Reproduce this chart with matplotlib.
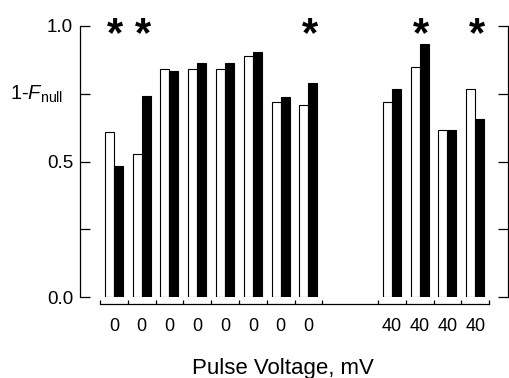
import numpy as np
import matplotlib
matplotlib.use('Agg')
import matplotlib.pyplot as plt

plt.rcParams['font.family'] = ['Liberation Sans', 'DejaVu Sans']
plt.rcParams['mathtext.fontset'] = 'custom'
plt.rcParams['mathtext.rm'] = 'Liberation Sans'
plt.rcParams['mathtext.it'] = 'Liberation Sans:italic'

# 数据：每组的电压标签、位置（槽号）、白柱和黑柱的值
labels = ['0', '0', '0', '0', '0', '0', '0', '0', '40', '40', '40', '40']
slots = [0, 1, 2, 3, 4, 5, 6, 7, 10, 11, 12, 13]
white = [0.610, 0.528, 0.841, 0.841, 0.841, 0.890, 0.718, 0.707, 0.718, 0.850, 0.615, 0.768]
black = [0.483, 0.742, 0.834, 0.862, 0.862, 0.903, 0.739, 0.790, 0.768, 0.932, 0.615, 0.657]
star_groups = [0, 1, 7, 9, 11]

W, H = 509, 378
fig = plt.figure(figsize=(W / 100, H / 100), dpi=100)
ax = fig.add_axes([80 / W, 1 - 297 / H, 428 / W, 271 / H])

x = np.array(slots, dtype=float)
bw = 0.324
ax.bar(x - bw / 2, white, width=bw, color='white', edgecolor='black', linewidth=0.8)
ax.bar(x + bw / 2, black, width=bw, color='black', edgecolor='black', linewidth=0.8)

for g in star_groups:
    ax.text(x[g] + 0.05, 0.925, '*', ha='center', va='baseline', fontsize=30,
            fontweight='bold', clip_on=False)

ax.set_xlim(-1.22, 14.18)
ax.set_ylim(0, 1.0)

# 坐标轴样式
ax.spines['top'].set_visible(False)
ax.spines['bottom'].set_position(('outward', 5))
ax.spines['bottom'].set_bounds(-0.5, 13.5)
for s in ['left', 'right', 'bottom']:
    ax.spines[s].set_linewidth(0.9)

ax.set_yticks([0, 0.25, 0.5, 0.75, 1.0])
ax.set_yticklabels(['0.0', '', '0.5', '', '1.0'])
ax.tick_params(axis='y', direction='in', length=7.5, width=0.9, right=True,
               labelsize=13.5, pad=5)

edges = [b - 0.5 for b in range(0, 9)] + [b - 0.5 for b in range(10, 15)]
ax.set_xticks(edges)
ax.set_xticklabels([''] * len(edges))
ax.set_xticks(x, minor=True)
ax.set_xticklabels(labels, minor=True)
ax.tick_params(axis='x', which='major', direction='in', length=3, width=0.9)
ax.tick_params(axis='x', which='minor', length=0, labelsize=13, pad=10)

fig.text(10 / W, 1 - 100 / H, r'1-$\mathit{F}_{\mathrm{null}}$', fontsize=14.5,
         ha='left', va='baseline')
fig.text(283 / W, 1 - 374 / H, 'Pulse Voltage, mV', fontsize=16,
         ha='center', va='baseline')

fig.savefig('out.png', dpi=100)
